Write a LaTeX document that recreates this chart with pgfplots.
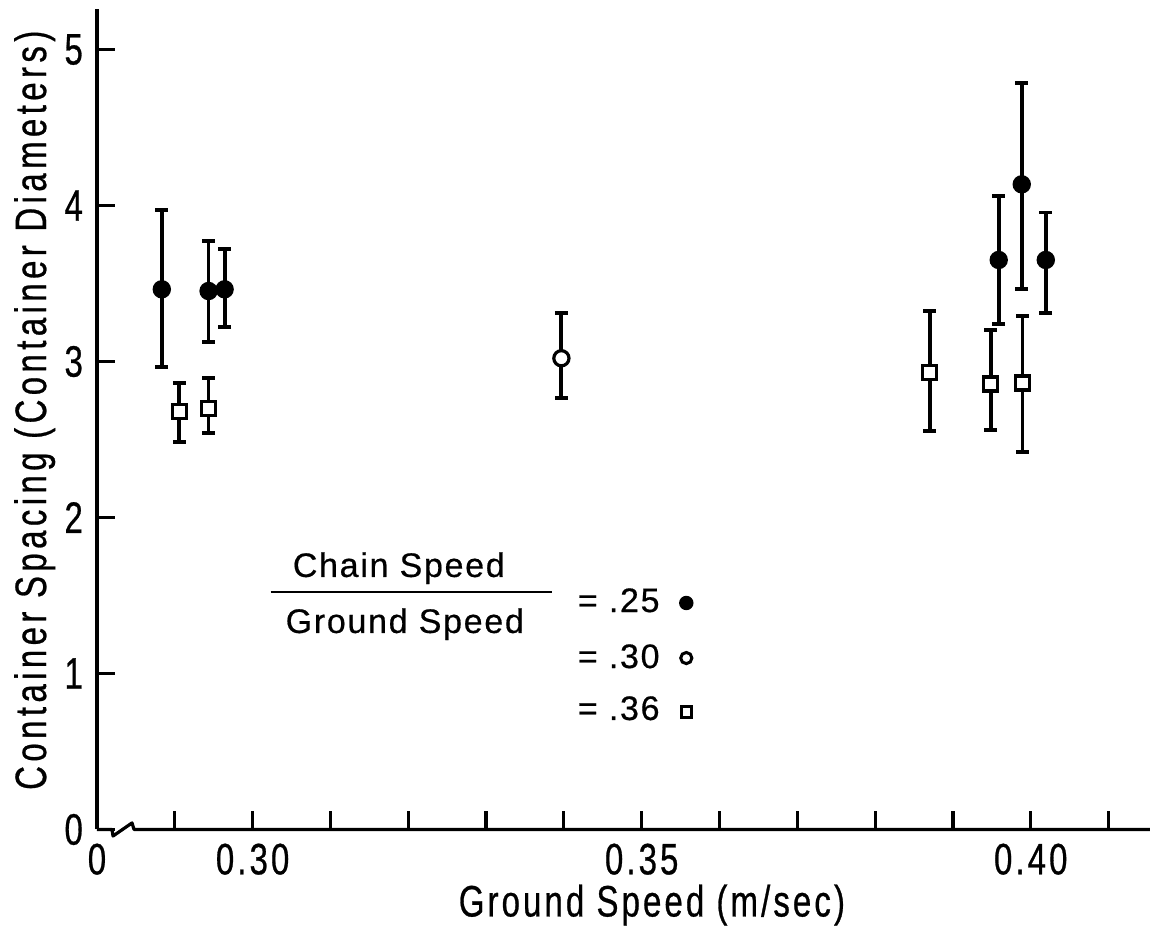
\documentclass[border=0pt]{standalone}
\usepackage{fontspec}
\setmainfont{Liberation Sans}
\newfontfamily\axfont{Liberation Sans}[FakeStretch=0.75, LetterSpace=7, FakeBold=0.6]
\newfontfamily\ylfont{Liberation Sans}[FakeStretch=0.75, LetterSpace=10, FakeBold=0.6]
\newfontfamily\legfont{Liberation Sans}[LetterSpace=5, FakeBold=0.5]
\usepackage{pgfplots}
\usepackage{pgfplotstable}
\pgfplotsset{compat=1.18}

% chain speed / ground speed = .25
\pgfplotstableread{
x y ep em
0.28833 3.463 0.508 0.496
0.29434 3.452 0.320 0.327
0.29640 3.463 0.258 0.240
0.39588 3.651 0.410 0.411
0.39884 4.136 0.647 0.669
0.40193 3.651 0.304 0.338
}\ratioA
% = .30
\pgfplotstableread{
x y ep em
0.33968 3.021 0.288 0.257
}\ratioB
% = .36
\pgfplotstableread{
x y ep em
0.29057 2.678 0.182 0.192
0.29434 2.700 0.196 0.156
0.38700 2.928 0.396 0.372
0.39485 2.856 0.346 0.295
0.39893 2.862 0.430 0.440
}\ratioC

\begin{document}
\begin{tikzpicture}
\path[use as bounding box] (-24.25pt,-25.375pt) rectangle (263.25pt,207.375pt);
\begin{axis}[
  at={(0,0)}, anchor=south west,
  scale only axis, width=263.25pt, height=205.125pt,
  xmin=0.28, xmax=0.41532, ymin=0, ymax=5.26,
  clip=false,
  axis x line*=bottom, axis y line*=left,
  x axis line style={draw=none},
  y axis line style={line width=0.8pt},
  tick align=inside,
  major tick length=4.5pt,
  tick style={line width=0.8pt, black},
  xtick={0.29,0.30,0.31,0.32,0.33,0.34,0.35,0.36,0.37,0.38,0.39,0.40,0.41},
  xticklabels={,0.30,,,,,0.35,,,,,0.40,},
  extra x ticks={0.28}, extra x tick labels={0},
  extra x tick style={major tick length=0pt},
  ytick={0,1,2,3,4,5},
  yticklabels={0,1,2,3,4,5},
  tick label style={font=\axfont\fontsize{11}{13}\selectfont},
  xlabel={Ground Speed (m/sec)},
  ylabel={Container Spacing (Container Diameters)},
  xlabel style={font=\axfont\fontsize{11}{13}\selectfont, at={(axis description cs:0.527,-0.106)}, anchor=base},
  ylabel style={font=\ylfont\fontsize{11}{13}\selectfont, at={(axis description cs:-0.0484,0.511)}, anchor=base, rotate=0},
  error bars/error bar style={line width=0.95pt, black},
  error bars/error mark options={rotate=90, mark size=1.6pt, line width=0.95pt, black},
]
% x axis line with break
\draw[line width=0.8pt, line join=round]
  (axis cs:0.28,0) -- (axis cs:0.28193,0) -- (axis cs:0.28206,-0.042)
  -- (axis cs:0.28450,0.042) -- (axis cs:0.28476,0) -- (axis cs:0.41532,0);

\addplot[only marks, black, mark=*, mark size=2.1pt,
  error bars/.cd, y dir=both, y explicit]
  table[x=x, y=y, y error plus=ep, y error minus=em] {\ratioA};
\addplot[only marks, black, mark=*, mark size=1.9pt,
  mark options={fill=white, line width=0.8pt},
  error bars/.cd, y dir=both, y explicit]
  table[x=x, y=y, y error plus=ep, y error minus=em] {\ratioB};
\addplot[only marks, black, mark=square*, mark size=1.75pt,
  mark options={fill=white, line width=0.8pt},
  error bars/.cd, y dir=both, y explicit]
  table[x=x, y=y, y error plus=ep, y error minus=em] {\ratioC};

% key
\node[anchor=base, font=\legfont\fontsize{8.5}{10}\selectfont] at (axis cs:0.31879,1.619) {Chain Speed};
\draw[line width=0.5pt] (axis cs:0.30232,1.522) -- (axis cs:0.33848,1.522);
\node[anchor=base, font=\legfont\fontsize{8.5}{10}\selectfont] at (axis cs:0.31956,1.260) {Ground Speed};
\node[anchor=base west, inner sep=0pt, font=\legfont\fontsize{8.5}{10}\selectfont] at (axis cs:0.34170,1.394) {= .25};
\node[anchor=base west, inner sep=0pt, font=\legfont\fontsize{8.5}{10}\selectfont] at (axis cs:0.34170,1.035) {= .30};
\node[anchor=base west, inner sep=0pt, font=\legfont\fontsize{8.5}{10}\selectfont] at (axis cs:0.34170,0.702) {= .36};
\addplot[only marks, black, mark=*, mark size=1.6pt] coordinates {(0.35573,1.452)};
\addplot[only marks, black, mark=o, mark size=1.4pt, mark options={line width=0.75pt}] coordinates {(0.35573,1.099)};
\addplot[only marks, black, mark=square, mark size=1.3pt, mark options={line width=0.75pt}] coordinates {(0.35573,0.753)};
\end{axis}
\end{tikzpicture}
\end{document}
